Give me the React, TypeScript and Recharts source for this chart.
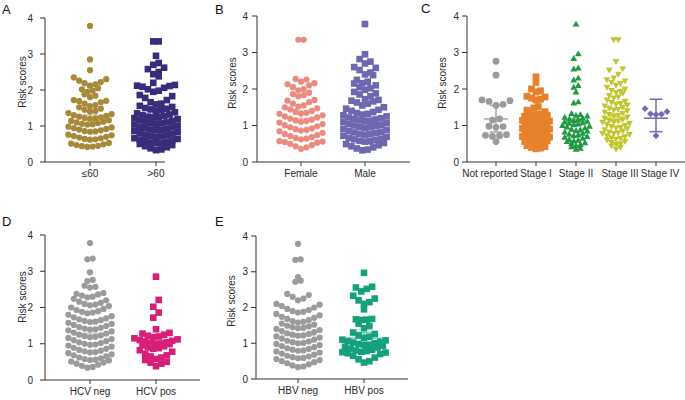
import React from "react";
import { ScatterChart, Scatter, XAxis, YAxis, ReferenceLine } from "recharts";

const FONT = "'Liberation Sans', Arial, Helvetica, sans-serif";
const AXIS = "#333333";
const TEXT = "#2a2a2a";

// ---- A: age ----
const ageLabels = ["≤60", ">60"];
const ageYoung = [
  [0.42, 0.43, 0.44, 0.45, 0.47, 0.49, 0.51, 0.53],
  [0.62, 0.63, 0.64, 0.66, 0.68, 0.7, 0.72, 0.74, 0.76],
  [0.84, 0.85, 0.86, 0.88, 0.9, 0.92, 0.94, 0.96, 0.98],
  [1.04, 1.05, 1.06, 1.08, 1.1, 1.12, 1.14, 1.16],
  [1.2, 1.21, 1.22, 1.24, 1.26, 1.28, 1.3, 1.33, 1.36],
  [1.4, 1.42, 1.45, 1.48, 1.52],
  [1.55, 1.58, 1.62, 1.66, 1.69, 1.7, 1.72],
  [1.8, 1.84, 1.88],
  [1.95, 1.98, 2.02, 2.05],
  [2.12, 2.16, 2.19, 2.22, 2.26, 2.3, 2.35],
  [2.55],
  [2.85],
  [3.78],
];
const ageOld = [
  [0.33, 0.35, 0.38, 0.41, 0.44, 0.47, 0.5],
  [0.52, 0.53, 0.54, 0.56, 0.58, 0.6, 0.62, 0.64, 0.66],
  [0.7, 0.71, 0.72, 0.74, 0.76, 0.78, 0.8, 0.83, 0.86],
  [0.88, 0.89, 0.9, 0.92, 0.94, 0.96, 0.98, 1.01, 1.04],
  [1.06, 1.07, 1.08, 1.1, 1.12, 1.14, 1.16, 1.19, 1.22],
  [1.24, 1.25, 1.26, 1.28, 1.3, 1.32, 1.35, 1.38],
  [1.42, 1.44, 1.46, 1.48, 1.5, 1.53, 1.56],
  [1.6, 1.62, 1.66, 1.72, 1.78, 1.83, 1.86],
  [1.95, 1.98, 2.02, 2.06, 2.09, 2.11, 2.12, 2.14],
  [2.2, 2.38],
  [2.44, 2.5, 2.58, 2.62],
  [2.7, 2.75],
  [2.95],
  [3.35, 3.35],
];
const ageMeans = [1.24, 1.22];
const ageSem = [0.07, 0.06];

// ---- B: sex ----
const sexLabels = ["Female", "Male"];
const female = [
  [0.36, 0.4, 0.43, 0.46, 0.5, 0.53, 0.55, 0.56, 0.57],
  [0.62, 0.64, 0.66, 0.68, 0.71, 0.74, 0.77, 0.8, 0.84],
  [0.86, 0.88, 0.9, 0.92, 0.95, 0.98, 1.01, 1.04, 1.08],
  [1.1, 1.12, 1.14, 1.16, 1.19, 1.22, 1.25, 1.28, 1.32],
  [1.33, 1.35, 1.38, 1.4, 1.44, 1.47, 1.5],
  [1.52, 1.55, 1.6, 1.64, 1.68, 1.7],
  [1.8, 1.83, 1.86, 1.9],
  [1.96, 2.0, 2.05, 2.1, 2.13, 2.16],
  [2.2, 2.26, 2.28],
  [3.35, 3.35],
];
const male = [
  [0.32, 0.34, 0.37, 0.4, 0.43, 0.46, 0.49, 0.52],
  [0.56, 0.57, 0.58, 0.6, 0.62, 0.64, 0.66, 0.69, 0.72],
  [0.75, 0.76, 0.77, 0.79, 0.81, 0.83, 0.85, 0.88, 0.91],
  [0.94, 0.95, 0.96, 0.98, 1.0, 1.02, 1.04, 1.07, 1.1],
  [1.12, 1.13, 1.14, 1.16, 1.18, 1.2, 1.22, 1.25, 1.28],
  [1.3, 1.32, 1.34, 1.37, 1.4, 1.43, 1.46, 1.5],
  [1.55, 1.6, 1.63, 1.66, 1.68, 1.7],
  [1.72, 1.8, 1.85, 1.88, 1.92],
  [1.98, 2.02, 2.05, 2.1, 2.15],
  [2.16, 2.2, 2.25, 2.38],
  [2.4, 2.45, 2.52, 2.58, 2.6],
  [2.7, 2.75, 2.82],
  [2.95],
  [3.78],
];
const sexMeans = [1.2, 1.25];
const sexSem = [0.1, 0.07];

// ---- C: stage ----
const stageLabels = ["Not reported", "Stage I", "Stage II", "Stage III", "Stage IV"];
const notReported = [
  [0.56],
  [0.7, 0.72, 0.73, 0.75],
  [0.95, 0.97, 0.98],
  [1.15, 1.18],
  [1.55, 1.58, 1.66, 1.68, 1.7],
  [2.38],
  [2.76],
];
const stage1 = [
  [0.36, 0.38, 0.4, 0.42, 0.45],
  [0.48, 0.5, 0.52, 0.54, 0.56, 0.58],
  [0.6, 0.61, 0.62, 0.64, 0.66, 0.68, 0.7],
  [0.72, 0.73, 0.74, 0.76, 0.78, 0.8],
  [0.82, 0.83, 0.84, 0.86, 0.88, 0.9, 0.92],
  [0.94, 0.95, 0.96, 0.98, 1.0, 1.02],
  [1.04, 1.05, 1.06, 1.08, 1.1, 1.12, 1.14],
  [1.16, 1.18, 1.2, 1.22, 1.25, 1.28],
  [1.3, 1.32, 1.35, 1.38, 1.42],
  [1.48, 1.52],
  [1.7, 1.72, 1.75, 1.78, 1.8],
  [1.92, 1.95, 2.0],
  [2.18],
  [2.33],
];
const stage2 = [
  [0.35, 0.38, 0.42],
  [0.45, 0.48, 0.5, 0.53, 0.56],
  [0.58, 0.6, 0.62, 0.65, 0.68, 0.7],
  [0.72, 0.74, 0.76, 0.79, 0.82, 0.85],
  [0.86, 0.88, 0.9, 0.93, 0.96, 0.98, 1.0],
  [1.02, 1.04, 1.06, 1.08, 1.1, 1.12],
  [1.14, 1.16, 1.18, 1.2, 1.23, 1.26],
  [1.28, 1.3, 1.33],
  [1.62, 1.65],
  [1.92],
  [2.05, 2.1],
  [2.25, 2.3],
  [2.55, 2.58],
  [2.84, 2.97],
  [3.78],
];
const stage3 = [
  [0.35, 0.4, 0.44],
  [0.48, 0.5, 0.53, 0.56, 0.6],
  [0.62, 0.64, 0.66, 0.69, 0.72, 0.75, 0.78],
  [0.78, 0.8, 0.82, 0.85, 0.88, 0.91],
  [0.93, 0.95, 0.97, 1.0, 1.03, 1.06, 1.09],
  [1.1, 1.12, 1.14, 1.17, 1.2, 1.23],
  [1.26, 1.28, 1.3, 1.33, 1.36, 1.4],
  [1.42, 1.44, 1.47, 1.5, 1.53, 1.56],
  [1.58, 1.6, 1.63, 1.66, 1.7],
  [1.75, 1.78, 1.82, 1.88],
  [1.9, 1.93, 1.96, 2.0, 2.05],
  [2.1, 2.15, 2.18, 2.22, 2.25],
  [2.3, 2.4, 2.52, 2.55],
  [2.75],
  [3.35, 3.35],
];
const stage4 = [
  [0.72],
  [1.3, 1.31, 1.32, 1.38, 1.46],
];
const stageMeans = [1.18, 1.0, 1.1, 1.17, 1.2];
const stageLo = [0.82, 0.94, 1.02, 1.1, 0.83];
const stageHi = [1.55, 1.06, 1.18, 1.24, 1.72];

// ---- D: HCV ----
const hcvLabels = ["HCV neg", "HCV pos"];
const hcvNeg = [
  [0.34, 0.36, 0.39, 0.42, 0.45, 0.48, 0.51, 0.54],
  [0.55, 0.56, 0.58, 0.6, 0.62, 0.65, 0.68, 0.71, 0.74],
  [0.76, 0.77, 0.79, 0.81, 0.83, 0.86, 0.89, 0.92, 0.95],
  [0.97, 0.98, 1.0, 1.02, 1.04, 1.07, 1.1, 1.13, 1.16],
  [1.18, 1.19, 1.21, 1.23, 1.25, 1.28, 1.31, 1.34, 1.37],
  [1.39, 1.4, 1.42, 1.44, 1.46, 1.49, 1.52, 1.55, 1.58],
  [1.6, 1.61, 1.63, 1.65, 1.67, 1.7, 1.73, 1.76, 1.8],
  [1.84, 1.86, 1.88, 1.9, 1.93, 1.96, 2.0, 2.04],
  [2.06, 2.08, 2.1, 2.13, 2.16, 2.2, 2.24],
  [2.28, 2.3, 2.33, 2.36, 2.38, 2.4],
  [2.55, 2.57, 2.6],
  [2.73, 2.76],
  [2.97],
  [3.33, 3.35],
  [3.78],
];
const hcvPos = [
  [0.38, 0.45, 0.48, 0.5, 0.55],
  [0.58, 0.62, 0.65, 0.68, 0.72, 0.78, 0.82],
  [0.86, 0.88, 0.9, 0.93, 0.96, 0.99],
  [1.0, 1.01, 1.02, 1.04, 1.06, 1.08, 1.1, 1.12, 1.15],
  [1.18, 1.2, 1.22, 1.25, 1.28, 1.3],
  [1.4],
  [1.72, 1.86],
  [2.02, 2.21],
  [2.85],
];
const hcvMeans = [1.24, 1.06];
const hcvSem = [0.05, 0.08];

// ---- E: HBV ----
const hbvLabels = ["HBV neg", "HBV pos"];
const hbvNeg = [
  [0.33, 0.35, 0.38, 0.41, 0.44, 0.47, 0.5, 0.53, 0.56],
  [0.58, 0.59, 0.61, 0.63, 0.65, 0.68, 0.71, 0.74, 0.77],
  [0.79, 0.8, 0.82, 0.84, 0.86, 0.89, 0.92, 0.95, 0.98],
  [1.0, 1.01, 1.03, 1.05, 1.07, 1.1, 1.13, 1.16, 1.19],
  [1.21, 1.22, 1.24, 1.26, 1.28, 1.31, 1.34, 1.37, 1.4],
  [1.42, 1.43, 1.45, 1.47, 1.49, 1.52, 1.55],
  [1.58, 1.6, 1.62, 1.65, 1.68, 1.71, 1.74, 1.78, 1.82],
  [1.86, 1.88, 1.9, 1.93, 1.96, 2.0, 2.04, 2.08, 2.1],
  [2.2, 2.25, 2.3, 2.35, 2.38],
  [2.72, 2.75],
  [2.85],
  [3.33, 3.35],
  [3.78],
];
const hbvPos = [
  [0.46, 0.5, 0.55, 0.6, 0.65, 0.7, 0.72, 0.74, 0.75],
  [0.76, 0.78, 0.8, 0.82, 0.85, 0.88, 0.9, 0.93],
  [0.95, 0.96, 0.98, 1.0, 1.02, 1.04, 1.06, 1.08, 1.1],
  [1.15, 1.18, 1.22, 1.26, 1.3],
  [1.42, 1.48, 1.55],
  [1.65, 1.66, 1.67, 1.68],
  [1.95],
  [2.1, 2.15, 2.2, 2.25, 2.33],
  [2.45, 2.52, 2.56, 2.58],
  [2.97],
];
const hbvMeans = [1.22, 1.14];
const hbvSem = [0.05, 0.16];

type Group = {
  rows: number[][];
  kind: string;
  color: string;
  line: string;
  size: number;
  gap: number;
  mean: number;
  lo: number;
  hi: number;
  half: number;
  cap: number;
};

// lay out each row of a column beeswarm-style: lowest value in the middle, then outwards
function swarm(rows: number[][], cat: number, gapPx: number, pxPerCat: number) {
  const pts: { x: number; y: number }[] = [];
  rows.forEach((row) => {
    const vals = [...row].sort((a, b) => a - b);
    const n = vals.length;
    vals.forEach((v, k) => {
      let slot: number;
      if (n % 2 === 1) slot = k === 0 ? 0 : k % 2 === 1 ? (k + 1) / 2 : -k / 2;
      else slot = k % 2 === 0 ? -(k / 2 + 0.5) : (k - 1) / 2 + 0.5;
      pts.push({ x: cat + (slot * gapPx) / pxPerCat, y: v });
    });
  });
  return pts;
}

function Marker(props: any) {
  const { cx, cy, kind, size, color } = props;
  if (cx == null || cy == null) return null;
  const h = size / 2;
  if (kind === "square") return <rect x={cx - h} y={cy - h} width={size} height={size} fill={color} />;
  if (kind === "triangle")
    return <polygon points={`${cx},${cy - h} ${cx + h},${cy + h * 0.75} ${cx - h},${cy + h * 0.75}`} fill={color} />;
  if (kind === "down")
    return <polygon points={`${cx},${cy + h} ${cx + h},${cy - h * 0.75} ${cx - h},${cy - h * 0.75}`} fill={color} />;
  if (kind === "diamond")
    return <polygon points={`${cx},${cy - h} ${cx + h},${cy} ${cx},${cy + h} ${cx - h},${cy}`} fill={color} />;
  return <circle cx={cx} cy={cy} r={h} fill={color} />;
}

type PanelProps = {
  plotLeft: number;
  plotTop: number;
  plotBottom: number;
  plotRight: number;
  firstCat: number;
  catGap: number;
  axisEnd: number;
  labels: string[];
  labelShift?: number[];
  yMargin: number;
  groups: Group[];
};

function Panel(props: PanelProps) {
  const { plotLeft, plotTop, plotBottom, plotRight, firstCat, catGap, axisEnd, labels, groups, yMargin } = props;
  const shift = props.labelShift ?? labels.map(() => 0);
  const plotW = plotRight - plotLeft;
  const plotH = plotBottom - plotTop;
  const lo = (plotLeft - firstCat) / catGap;
  const hi = (plotRight - firstCat) / catGap;
  const axisX = (axisEnd - firstCat) / catGap;
  const tickStyle = { fontSize: 10, fill: TEXT, fontFamily: FONT };

  const CatTick = (p: any) => {
    const i = Math.round(p.payload.value);
    return (
      <text x={p.x + (shift[i] || 0)} y={p.y} dy="0.71em" textAnchor="middle" {...tickStyle}>
        {labels[i]}
      </text>
    );
  };

  return (
    <div style={{ position: "absolute", left: plotLeft - 40, top: plotTop - 10 }}>
      <ScatterChart width={plotW + 50} height={plotH + 40} margin={{ top: 10, right: 10, bottom: 0, left: 0 }}>
        <XAxis
          type="number"
          dataKey="x"
          domain={[lo, hi]}
          allowDataOverflow
          ticks={labels.map((_, i) => i)}
          interval={0}
          axisLine={false}
          tickLine={{ stroke: AXIS }}
          tickSize={4}
          tickMargin={4}
          height={30}
          tick={<CatTick />}
        />
        <YAxis
          type="number"
          dataKey="y"
          domain={[0, 4]}
          ticks={[0, 1, 2, 3, 4]}
          allowDataOverflow
          width={40}
          axisLine={{ stroke: AXIS }}
          tickLine={{ stroke: AXIS }}
          tickSize={5}
          tickMargin={yMargin}
          tick={tickStyle}
        />
        {groups.map((g, i) => (
          <Scatter
            key={`s${i}`}
            data={swarm(g.rows, i, g.gap, catGap)}
            isAnimationActive={false}
            shape={(p: any) => <Marker {...p} kind={g.kind} size={g.size} color={g.color} />}
          />
        ))}
        <ReferenceLine
          segment={[{ x: lo, y: 0 }, { x: axisX, y: 0 }]}
          stroke={AXIS}
          strokeWidth={1}
          ifOverflow="visible"
        />
        {groups.map((g, i) => [
          <ReferenceLine
            key={`m${i}`}
            segment={[{ x: i - g.half / catGap, y: g.mean }, { x: i + g.half / catGap, y: g.mean }]}
            stroke={g.line}
            strokeWidth={1.5}
            ifOverflow="visible"
          />,
          <ReferenceLine
            key={`v${i}`}
            segment={[{ x: i, y: g.lo }, { x: i, y: g.hi }]}
            stroke={g.line}
            strokeWidth={1.5}
            ifOverflow="visible"
          />,
          <ReferenceLine
            key={`h${i}`}
            segment={[{ x: i - g.cap / catGap, y: g.hi }, { x: i + g.cap / catGap, y: g.hi }]}
            stroke={g.line}
            strokeWidth={1.5}
            ifOverflow="visible"
          />,
          <ReferenceLine
            key={`l${i}`}
            segment={[{ x: i - g.cap / catGap, y: g.lo }, { x: i + g.cap / catGap, y: g.lo }]}
            stroke={g.line}
            strokeWidth={1.5}
            ifOverflow="visible"
          />,
        ])}
      </ScatterChart>
    </div>
  );
}

const two = (
  rows: number[][][],
  kinds: string[],
  colors: string[],
  lines: string[],
  means: number[],
  sem: number[],
): Group[] =>
  rows.map((r, i) => ({
    rows: r,
    kind: kinds[i],
    color: colors[i],
    line: lines[i],
    size: kinds[i] === "square" ? 6.6 : 6.2,
    gap: 5.4,
    mean: means[i],
    lo: means[i] - sem[i],
    hi: means[i] + sem[i],
    half: 17,
    cap: 8,
  }));

const Letter = ({ t, x, y }: { t: string; x: number; y: number }) => (
  <div style={{ position: "absolute", left: x, top: y, fontSize: 13, lineHeight: "13px", fontFamily: FONT, color: "#111" }}>
    {t}
  </div>
);

const YLabel = ({ x, y }: { x: number; y: number }) => (
  <div
    style={{
      position: "absolute",
      left: x,
      top: y,
      transform: "translate(-50%, -50%) rotate(-90deg)",
      fontSize: 10,
      lineHeight: "10px",
      whiteSpace: "nowrap",
      fontFamily: FONT,
      color: TEXT,
    }}
  >
    Risk scores
  </div>
);

export default function App() {
  const stageKinds = ["circle", "square", "triangle", "down", "diamond"];
  const stageColors = ["#9b9b9b", "#e8812c", "#1f9a40", "#c3c52d", "#7268b4"];
  const stageLines = ["#a8a8a8", "#f2b27a", "#6cc586", "#e0e186", "#7268b4"];
  const stageRows = [notReported, stage1, stage2, stage3, stage4];
  const stageGaps = [7, 4.5, 4.5, 4.5, 5.5];
  const stageGroups: Group[] = stageRows.map((r, i) => ({
    rows: r,
    kind: stageKinds[i],
    color: stageColors[i],
    line: stageLines[i],
    size: 6.8,
    gap: stageGaps[i],
    mean: stageMeans[i],
    lo: stageLo[i],
    hi: stageHi[i],
    half: 12,
    cap: 6.5,
  }));

  return (
    <div
      style={{
        position: "absolute",
        left: 0,
        top: 0,
        width: 685,
        height: 400,
        overflow: "hidden",
        background: "#ffffff",
        fontFamily: FONT,
      }}
    >
      <Letter t="A" x={2} y={3} />
      <Letter t="B" x={215} y={3} />
      <Letter t="C" x={421} y={2} />
      <Letter t="D" x={2} y={215} />
      <Letter t="E" x={215} y={215} />

      <YLabel x={23} y={82} />
      <YLabel x={233} y={83} />
      <YLabel x={443} y={83} />
      <YLabel x={23} y={297} />
      <YLabel x={232} y={301} />

      <Panel
        plotLeft={45}
        plotTop={18}
        plotBottom={162}
        plotRight={195}
        firstCat={90}
        catGap={66}
        axisEnd={165}
        yMargin={7}
        labels={ageLabels}
        groups={two([ageYoung, ageOld], ["circle", "square"], ["#a8893a", "#3a2c7a"], ["#d8c89a", "#8b80c0"], ageMeans, ageSem)}
      />
      <Panel
        plotLeft={257}
        plotTop={16}
        plotBottom={162}
        plotRight={410}
        firstCat={301}
        catGap={64}
        axisEnd={410}
        yMargin={4}
        labels={sexLabels}
        groups={two([female, male], ["circle", "square"], ["#ec8a80", "#6e68b0"], ["#f7c2bc", "#aaa6d6"], sexMeans, sexSem)}
      />
      <Panel
        plotLeft={467}
        plotTop={16}
        plotBottom={162}
        plotRight={685}
        firstCat={496}
        catGap={40}
        axisEnd={685}
        yMargin={3}
        labels={stageLabels}
        labelShift={[-6, 0, 0, 4, 4]}
        groups={stageGroups}
      />
      <Panel
        plotLeft={45}
        plotTop={235}
        plotBottom={380}
        plotRight={200}
        firstCat={90}
        catGap={66}
        axisEnd={200}
        yMargin={7}
        labels={hcvLabels}
        groups={two([hcvNeg, hcvPos], ["circle", "square"], ["#9b9b9b", "#d81f78"], ["#d0d0d0", "#f08cbb"], hcvMeans, hcvSem)}
      />
      <Panel
        plotLeft={256}
        plotTop={236}
        plotBottom={379}
        plotRight={408}
        firstCat={298}
        catGap={66}
        axisEnd={408}
        yMargin={3}
        labels={hbvLabels}
        groups={two([hbvNeg, hbvPos], ["circle", "square"], ["#9b9b9b", "#15a07e"], ["#d0d0d0", "#6fd1b4"], hbvMeans, hbvSem)}
      />
    </div>
  );
}
